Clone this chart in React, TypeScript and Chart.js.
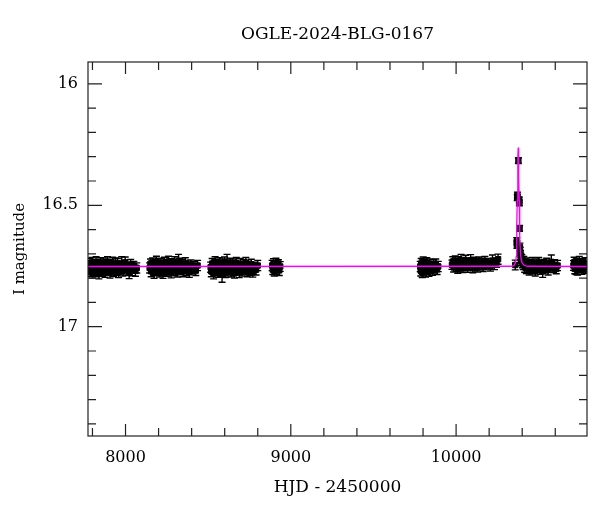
import React, { useEffect, useRef } from "react";
import { Chart, registerables } from "chart.js";

Chart.register(...registerables);

const TITLE = "OGLE-2024-BLG-0167";
const X_LABEL = "HJD - 2450000";
const Y_LABEL = "I magnitude";

const X_MIN = 7773;
const X_MAX = 10792;
const Y_MIN = 15.91;
const Y_MAX = 17.45;

const X_MAJOR = [8000, 9000, 10000];
const X_MINOR = [7800, 8200, 8400, 8600, 8800, 9200, 9400, 9600, 9800, 10200, 10400, 10600];
const Y_MAJOR = [16, 16.5, 17];
const Y_MINOR = [16.1, 16.2, 16.3, 16.4, 16.6, 16.7, 16.8, 16.9, 17.1, 17.2, 17.3, 17.4];

type P = [number, number, number]; // [HJD-2450000, I mag, error]

const S2017: P[] = [
  [7776, 16.748, 0.021], [7781, 16.766, 0.02], [7785, 16.741, 0.022], [7789, 16.772, 0.021],
  [7793, 16.755, 0.02], [7797, 16.738, 0.023], [7801, 16.779, 0.021], [7805, 16.76, 0.02],
  [7809, 16.745, 0.022], [7813, 16.768, 0.02], [7818, 16.752, 0.021], [7822, 16.735, 0.023],
  [7826, 16.774, 0.02], [7830, 16.759, 0.021], [7835, 16.743, 0.02], [7839, 16.781, 0.022],
  [7843, 16.751, 0.021], [7848, 16.736, 0.02], [7852, 16.765, 0.022], [7857, 16.748, 0.02],
  [7861, 16.771, 0.021], [7866, 16.74, 0.023], [7871, 16.757, 0.02], [7876, 16.776, 0.021],
  [7881, 16.744, 0.02], [7886, 16.762, 0.022], [7891, 16.733, 0.021], [7896, 16.769, 0.02],
  [7901, 16.75, 0.021], [7906, 16.778, 0.022], [7911, 16.742, 0.02], [7917, 16.76, 0.021],
  [7922, 16.737, 0.023], [7928, 16.773, 0.02], [7934, 16.754, 0.021], [7940, 16.745, 0.028],
  [7946, 16.767, 0.021], [7952, 16.739, 0.02], [7958, 16.776, 0.022], [7964, 16.751, 0.021],
  [7970, 16.763, 0.02], [7977, 16.742, 0.03], [7984, 16.77, 0.021], [7991, 16.748, 0.02],
  [7998, 16.735, 0.022], [8006, 16.766, 0.021], [8014, 16.756, 0.02], [8022, 16.779, 0.023],
  [8031, 16.744, 0.021], [8040, 16.762, 0.028], [8050, 16.751, 0.02], [8060, 16.77, 0.022],
  [8068, 16.758, 0.021],
];

const S2018: P[] = [
  [8146, 16.758, 0.021], [8151, 16.741, 0.02], [8155, 16.772, 0.022], [8160, 16.75, 0.021],
  [8164, 16.737, 0.02], [8169, 16.766, 0.021], [8173, 16.779, 0.022], [8178, 16.746, 0.02],
  [8182, 16.76, 0.021], [8187, 16.733, 0.023], [8191, 16.769, 0.02], [8196, 16.752, 0.021],
  [8200, 16.742, 0.022], [8205, 16.775, 0.02], [8209, 16.757, 0.021], [8214, 16.738, 0.02],
  [8218, 16.764, 0.022], [8223, 16.748, 0.021], [8227, 16.781, 0.02], [8232, 16.754, 0.021],
  [8236, 16.736, 0.022], [8241, 16.767, 0.02], [8246, 16.745, 0.021], [8251, 16.772, 0.02],
  [8256, 16.758, 0.022], [8261, 16.731, 0.021], [8266, 16.763, 0.02], [8271, 16.749, 0.021],
  [8276, 16.777, 0.022], [8281, 16.74, 0.02], [8287, 16.756, 0.021], [8292, 16.77, 0.02],
  [8298, 16.734, 0.022], [8303, 16.761, 0.021], [8309, 16.747, 0.02], [8315, 16.774, 0.021],
  [8321, 16.737, 0.035], [8327, 16.739, 0.021], [8334, 16.766, 0.02], [8341, 16.744, 0.022],
  [8348, 16.773, 0.021], [8355, 16.757, 0.02], [8362, 16.737, 0.021], [8370, 16.768, 0.022],
  [8378, 16.75, 0.02], [8386, 16.776, 0.021], [8395, 16.745, 0.02], [8404, 16.761, 0.022],
  [8414, 16.753, 0.021], [8425, 16.769, 0.02], [8436, 16.748, 0.021],
];

const S2019: P[] = [
  [8515, 16.755, 0.021], [8519, 16.772, 0.022], [8524, 16.74, 0.021], [8528, 16.763, 0.02],
  [8533, 16.781, 0.022], [8537, 16.748, 0.021], [8542, 16.735, 0.023], [8546, 16.769, 0.02],
  [8551, 16.757, 0.021], [8555, 16.744, 0.022], [8560, 16.776, 0.021], [8564, 16.761, 0.02],
  [8569, 16.738, 0.022], [8573, 16.773, 0.021], [8578, 16.75, 0.02], [8584, 16.785, 0.032],
  [8589, 16.742, 0.021], [8594, 16.766, 0.022], [8599, 16.734, 0.021], [8604, 16.778, 0.02],
  [8609, 16.753, 0.021], [8614, 16.736, 0.034], [8619, 16.77, 0.021], [8624, 16.746, 0.02],
  [8629, 16.762, 0.022], [8634, 16.739, 0.021], [8639, 16.775, 0.02], [8644, 16.756, 0.021],
  [8649, 16.743, 0.022], [8654, 16.768, 0.021], [8659, 16.78, 0.02], [8664, 16.749, 0.021],
  [8670, 16.737, 0.022], [8676, 16.764, 0.021], [8682, 16.752, 0.02], [8688, 16.777, 0.021],
  [8694, 16.741, 0.022], [8700, 16.759, 0.021], [8707, 16.771, 0.02], [8714, 16.745, 0.021],
  [8721, 16.763, 0.022], [8728, 16.736, 0.021], [8736, 16.774, 0.02], [8744, 16.751, 0.021],
  [8752, 16.767, 0.022], [8761, 16.743, 0.021], [8770, 16.776, 0.02], [8780, 16.755, 0.021],
  [8790, 16.765, 0.022], [8800, 16.748, 0.021],
];

const S2020: P[] = [
  [8887, 16.748, 0.021], [8891, 16.765, 0.02], [8895, 16.742, 0.022], [8900, 16.77, 0.021],
  [8905, 16.755, 0.02], [8910, 16.739, 0.021], [8915, 16.762, 0.022], [8920, 16.75, 0.021],
  [8925, 16.744, 0.02], [8930, 16.768, 0.021], [8936, 16.752, 0.02],
];

const S2022: P[] = [
  [9783, 16.752, 0.021], [9786, 16.769, 0.022], [9789, 16.74, 0.021], [9792, 16.761, 0.02],
  [9795, 16.776, 0.022], [9798, 16.745, 0.021], [9801, 16.735, 0.022], [9804, 16.766, 0.021],
  [9808, 16.754, 0.02], [9811, 16.742, 0.021], [9815, 16.773, 0.022], [9819, 16.758, 0.021],
  [9823, 16.738, 0.022], [9827, 16.764, 0.021], [9831, 16.749, 0.02], [9836, 16.771, 0.021],
  [9841, 16.743, 0.022], [9846, 16.76, 0.021], [9851, 16.752, 0.02], [9857, 16.767, 0.021],
  [9863, 16.746, 0.022], [9870, 16.758, 0.021], [9877, 16.741, 0.02], [9885, 16.764, 0.021],
  [9892, 16.752, 0.021],
];

const S2023: P[] = [
  [9975, 16.745, 0.019], [9980, 16.732, 0.02], [9985, 16.756, 0.019], [9990, 16.741, 0.02],
  [9995, 16.728, 0.019], [10000, 16.752, 0.02], [10005, 16.738, 0.019], [10010, 16.76, 0.02],
  [10015, 16.731, 0.019], [10020, 16.747, 0.02], [10025, 16.755, 0.019], [10030, 16.726, 0.024],
  [10035, 16.743, 0.02], [10040, 16.758, 0.019], [10046, 16.735, 0.02], [10052, 16.75, 0.019],
  [10058, 16.729, 0.023], [10064, 16.744, 0.02], [10070, 16.757, 0.019], [10076, 16.737, 0.02],
  [10082, 16.749, 0.019], [10088, 16.727, 0.024], [10094, 16.746, 0.02], [10101, 16.759, 0.019],
  [10108, 16.734, 0.02], [10115, 16.751, 0.019], [10122, 16.74, 0.02], [10130, 16.756, 0.019],
  [10138, 16.733, 0.02], [10146, 16.748, 0.019], [10155, 16.738, 0.02], [10164, 16.754, 0.019],
  [10174, 16.731, 0.02], [10185, 16.747, 0.019], [10196, 16.739, 0.02], [10208, 16.752, 0.019],
  [10220, 16.728, 0.023], [10232, 16.745, 0.02], [10245, 16.736, 0.019], [10254, 16.722, 0.021],
];

const S2024: P[] = [
  [10358, 16.746, 0.02], [10367, 16.648, 0.015], [10368, 16.662, 0.015], [10370, 16.468, 0.012],
  [10371, 16.458, 0.012], [10377, 16.316, 0.012], [10382, 16.478, 0.012], [10383, 16.49, 0.012],
  [10384, 16.595, 0.012], [10386, 16.672, 0.016], [10388, 16.69, 0.017], [10390, 16.705, 0.018],
  [10392, 16.716, 0.018], [10395, 16.73, 0.019], [10398, 16.722, 0.019], [10402, 16.738, 0.019],
  [10406, 16.745, 0.02], [10410, 16.731, 0.02], [10415, 16.755, 0.021], [10420, 16.742, 0.02],
  [10425, 16.76, 0.021], [10430, 16.737, 0.02], [10436, 16.752, 0.028], [10442, 16.766, 0.021],
  [10448, 16.744, 0.02], [10454, 16.758, 0.021], [10460, 16.735, 0.02], [10466, 16.762, 0.021],
  [10472, 16.749, 0.02], [10479, 16.77, 0.021], [10486, 16.741, 0.02], [10493, 16.756, 0.021],
  [10500, 16.735, 0.02], [10508, 16.763, 0.021], [10516, 16.747, 0.02], [10524, 16.772, 0.025],
  [10532, 16.743, 0.02], [10540, 16.758, 0.021], [10548, 16.738, 0.02], [10557, 16.766, 0.021],
  [10566, 16.751, 0.02], [10576, 16.733, 0.028], [10586, 16.757, 0.02], [10596, 16.745, 0.021],
  [10606, 16.762, 0.02], [10614, 16.748, 0.021],
];

const S2025: P[] = [
  [10710, 16.748, 0.02], [10714, 16.735, 0.021], [10718, 16.762, 0.02], [10722, 16.744, 0.021],
  [10726, 16.757, 0.028], [10730, 16.739, 0.02], [10735, 16.766, 0.021], [10740, 16.75, 0.02],
  [10745, 16.732, 0.021], [10750, 16.758, 0.02], [10756, 16.745, 0.021], [10762, 16.764, 0.02],
  [10768, 16.741, 0.021], [10774, 16.755, 0.02], [10780, 16.737, 0.021], [10786, 16.76, 0.02],
  [10790, 16.748, 0.021],
];

const SEASONS: P[][] = [S2017, S2018, S2019, S2020, S2022, S2023, S2024, S2025];

const MODEL_T = [7773, 10340, 10352, 10360, 10364, 10366, 10368, 10370, 10372.5, 10374.5, 10376, 10377.5, 10379.5, 10382, 10384, 10386, 10389, 10393, 10399, 10410, 10430, 10792];
const MODEL_MAG = [16.752, 16.751, 16.747, 16.735, 16.71, 16.66, 16.58, 16.48, 16.38, 16.3, 16.262, 16.3, 16.38, 16.48, 16.57, 16.64, 16.69, 16.72, 16.737, 16.746, 16.751, 16.752];

const FONT = "'DejaVu Serif', serif";

const errorBarPlugin = {
  id: "errorBars",
  beforeDatasetsDraw(chart: any) {
    const ctx = chart.ctx;
    const ys = chart.scales.y;
    const area = chart.chartArea;
    ctx.save();
    ctx.beginPath();
    ctx.rect(area.left, area.top, area.right - area.left, area.bottom - area.top);
    ctx.clip();
    ctx.strokeStyle = "#000";
    ctx.lineWidth = 1.4;
    chart.data.datasets.forEach((ds: any, di: number) => {
      if (!ds.errors) return;
      const meta = chart.getDatasetMeta(di);
      meta.data.forEach((pt: any, i: number) => {
        const m = ds.data[i].y;
        const e = ds.errors[i];
        const y1 = ys.getPixelForValue(m - e);
        const y2 = ys.getPixelForValue(m + e);
        const x = pt.x;
        ctx.beginPath();
        ctx.moveTo(x, y1);
        ctx.lineTo(x, y2);
        ctx.moveTo(x - 3.5, y1);
        ctx.lineTo(x + 3.5, y1);
        ctx.moveTo(x - 3.5, y2);
        ctx.lineTo(x + 3.5, y2);
        ctx.stroke();
      });
    });
    ctx.restore();
  },
};

const frameAndTitlePlugin = {
  id: "frameTicks",
  afterDraw(chart: any) {
    const ctx = chart.ctx;
    const xs = chart.scales.x;
    const ys = chart.scales.y;
    const { left, right, top, bottom } = chart.chartArea;
    ctx.save();
    ctx.strokeStyle = "#222";
    ctx.lineWidth = 1.2;
    ctx.strokeRect(left, top, right - left, bottom - top);
    const tick = (vals: number[], len: number) => {
      vals.forEach((v) => {
        const px = xs.getPixelForValue(v);
        ctx.beginPath();
        ctx.moveTo(px, bottom);
        ctx.lineTo(px, bottom - len);
        ctx.moveTo(px, top);
        ctx.lineTo(px, top + len);
        ctx.stroke();
      });
    };
    const ytick = (vals: number[], len: number) => {
      vals.forEach((v) => {
        const py = ys.getPixelForValue(v);
        ctx.beginPath();
        ctx.moveTo(left, py);
        ctx.lineTo(left + len, py);
        ctx.moveTo(right, py);
        ctx.lineTo(right - len, py);
        ctx.stroke();
      });
    };
    tick(X_MAJOR, 12);
    tick(X_MINOR, 8);
    ytick(Y_MAJOR, 14);
    ytick(Y_MINOR, 8);
    ctx.fillStyle = "#000";
    ctx.font = `17px ${FONT}`;
    ctx.textAlign = "center";
    ctx.textBaseline = "middle";
    ctx.fillText(TITLE, (left + right) / 2, 35);
    ctx.restore();
  },
};

export default function App() {
  const ref = useRef<HTMLCanvasElement>(null);
  useEffect(() => {
    document.body.style.margin = "0";
    const canvas = ref.current!;
    const datasets: any[] = [
      {
        type: "line",
        data: MODEL_T.map((t, i) => ({ x: t, y: MODEL_MAG[i] })),
        borderColor: "#ff00ff",
        borderWidth: 1.3,
        pointRadius: 0,
        fill: false,
        tension: 0,
        order: 0,
      },
      ...SEASONS.map((s) => ({
        type: "scatter",
        data: s.map((p) => ({ x: p[0], y: p[1] })),
        errors: s.map((p) => p[2]),
        pointStyle: "rect",
        pointRadius: 3.8,
        backgroundColor: "#000",
        borderColor: "#000",
        borderWidth: 1,
        order: 1,
      })),
    ];
    const chart = new Chart(canvas, {
      type: "scatter",
      data: { datasets },
      options: {
        animation: false,
        responsive: false,
        devicePixelRatio: 1,
        layout: { padding: { top: 62, right: 13, left: 0, bottom: 0 } },
        plugins: { legend: { display: false }, tooltip: { enabled: false } },
        scales: {
          x: {
            type: "linear",
            min: X_MIN,
            max: X_MAX,
            grid: { display: false, drawTicks: false },
            border: { display: false },
            afterBuildTicks: (s: any) => {
              s.ticks = X_MAJOR.map((v) => ({ value: v }));
            },
            afterFit: (s: any) => {
              s.height = 76;
            },
            ticks: {
              color: "#000",
              font: { family: FONT, size: 16 },
              padding: 12,
              maxRotation: 0,
              callback: (v: any) => String(v),
            },
            title: {
              display: true,
              text: X_LABEL,
              color: "#000",
              font: { family: FONT, size: 17 },
              padding: { top: 0, bottom: 14 },
            },
          },
          y: {
            type: "linear",
            reverse: true,
            min: Y_MIN,
            max: Y_MAX,
            grid: { display: false, drawTicks: false },
            border: { display: false },
            afterBuildTicks: (s: any) => {
              s.ticks = Y_MAJOR.map((v) => ({ value: v }));
            },
            afterFit: (s: any) => {
              s.width = 88;
            },
            ticks: {
              color: "#000",
              font: { family: FONT, size: 16 },
              padding: 10,
              callback: (v: any) => String(v),
            },
            title: {
              display: true,
              text: Y_LABEL,
              color: "#000",
              font: { family: FONT, size: 15 },
              padding: { top: 11, bottom: 0 },
            },
          },
        },
      },
      plugins: [errorBarPlugin, frameAndTitlePlugin],
    } as any);
    return () => chart.destroy();
  }, []);
  return (
    <div style={{ width: 600, height: 512, background: "#fff" }}>
      <canvas ref={ref} width={600} height={512} style={{ display: "block" }} />
    </div>
  );
}
